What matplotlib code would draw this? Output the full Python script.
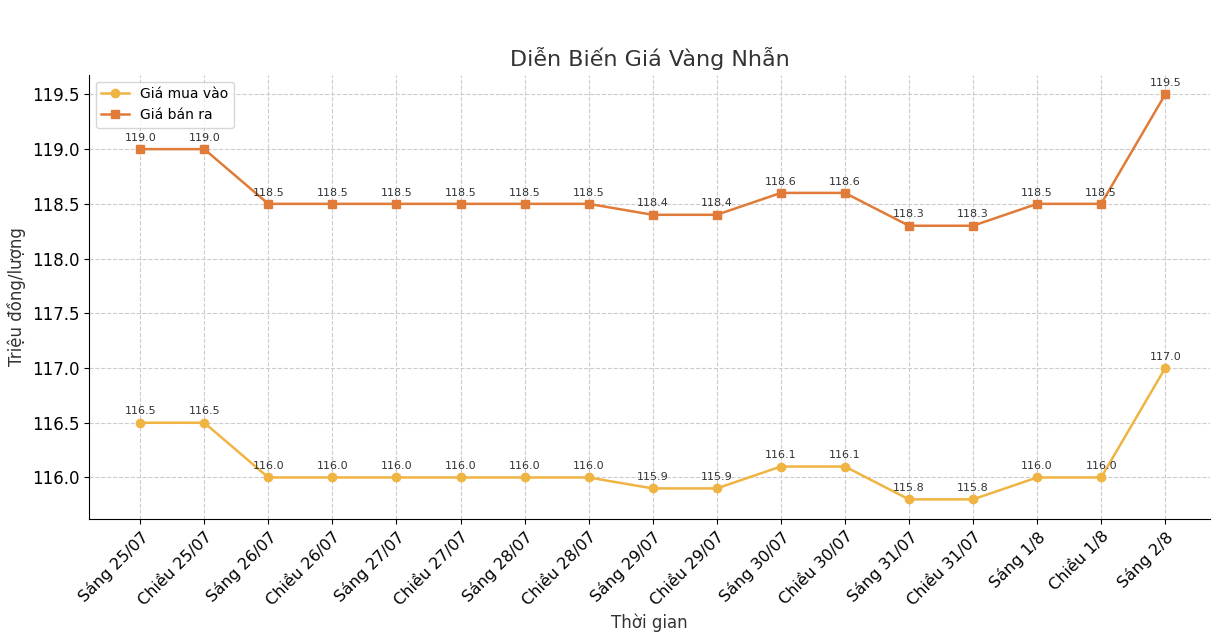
import matplotlib
matplotlib.use("Agg")
import matplotlib.pyplot as plt

labels = ["Sáng 25/07","Chiều 25/07","Sáng 26/07","Chiều 26/07","Sáng 27/07","Chiều 27/07",
          "Sáng 28/07","Chiều 28/07","Sáng 29/07","Chiều 29/07","Sáng 30/07","Chiều 30/07",
          "Sáng 31/07","Chiều 31/07","Sáng 1/8","Chiều 1/8","Sáng 2/8"]
buy = [116.5,116.5,116.0,116.0,116.0,116.0,116.0,116.0,115.9,115.9,116.1,116.1,115.8,115.8,116.0,116.0,117.0]
sell = [119.0,119.0,118.5,118.5,118.5,118.5,118.5,118.5,118.4,118.4,118.6,118.6,118.3,118.3,118.5,118.5,119.5]

fig = plt.figure(figsize=(12.12,6.44), dpi=100)
ax = fig.add_axes([0.0734,0.194,0.925,0.69])
x = list(range(len(labels)))
ax.plot(x, buy, marker='o', color='#F0B443', lw=1.8, ms=6, label='Giá mua vào')
ax.plot(x, sell, marker='s', color='#E07B39', lw=1.8, ms=6, label='Giá bán ra')
for xi, v in zip(x, buy):
    ax.annotate(f"{v:.1f}", (xi, v), xytext=(0,6), textcoords='offset points', ha='center', fontsize=8, color='#333333')
for xi, v in zip(x, sell):
    ax.annotate(f"{v:.1f}", (xi, v), xytext=(0,6), textcoords='offset points', ha='center', fontsize=8, color='#333333')
ax.set_xticks(x)
ax.set_xticklabels(labels, rotation=45, ha='right', rotation_mode='anchor', fontsize=11.5)
ax.set_ylim(115.62, 119.68)
ax.set_xlim(-0.8, 16.7)
ax.set_yticks([116.0,116.5,117.0,117.5,118.0,118.5,119.0,119.5])
ax.tick_params(axis='y', labelsize=12)
ax.grid(True, linestyle='--', color='#cccccc', lw=0.8)
for s in ['top','right']:
    ax.spines[s].set_visible(False)
ax.set_title("Diễn Biến Giá Vàng Nhẫn", fontsize=16, color='#333333', pad=6)
ax.set_xlabel("Thời gian", fontsize=12, color='#333333')
ax.set_ylabel("Triệu đồng/lượng", fontsize=12, color='#333333')
ax.legend(loc='upper left', fontsize=10)
fig.savefig("out.png", dpi=100)
